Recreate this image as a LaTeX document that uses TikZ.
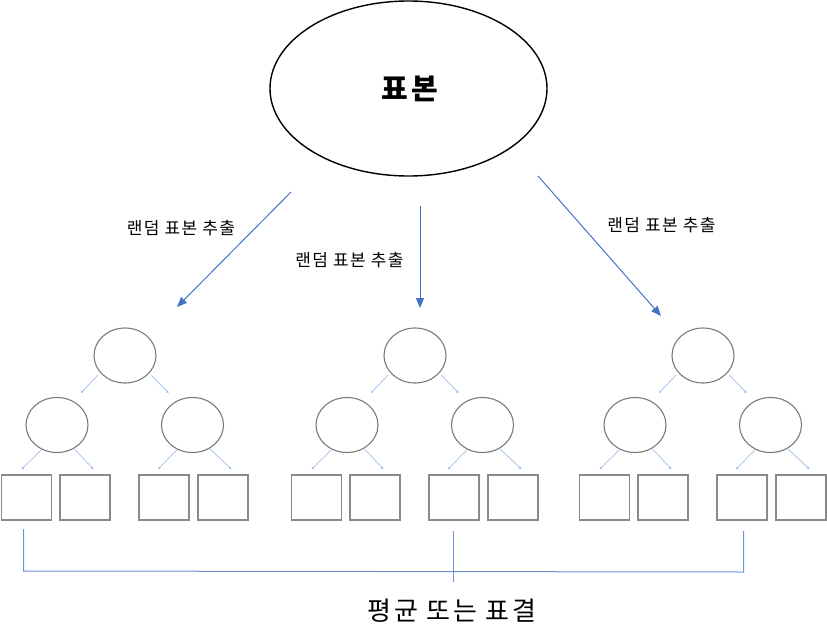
\documentclass[tikz,border=0pt]{standalone}
\usepackage{fontspec}
\newfontfamily\kr{Noto Sans CJK KR}
\usetikzlibrary{shapes.geometric,arrows.meta,calc}
\definecolor{arrblue}{HTML}{4472C4}
\definecolor{lightblue}{HTML}{9DBDEA}
\definecolor{brblue}{HTML}{6A92D8}
\definecolor{grayline}{HTML}{7A7A7A}
\definecolor{boxline}{HTML}{8A8A8A}
\tikzset{
  bigell/.style={ellipse, draw=black, line width=1.4pt, minimum width=277pt, minimum height=175pt, inner sep=0pt},
  treeell/.style={ellipse, draw=grayline, line width=1.1pt, minimum width=62pt, minimum height=55pt, inner sep=0pt},
  leafbox/.style={rectangle, draw=boxline, line width=1.4pt, minimum width=50pt, minimum height=45pt, inner sep=0pt},
  bigarrow/.style={draw=arrblue, line width=1pt, -{Triangle[length=10pt,width=8pt]}},
  tarrow/.style={draw=lightblue, line width=0.7pt, -{Triangle[length=2.5pt,width=2.5pt]}},
  lbl/.style={font=\kr\addfontfeature{LetterSpace=8}\fontsize{17}{20}\selectfont, inner sep=0pt},
  bracket/.style={draw=brblue, line width=1pt}
}
\begin{document}
\begin{tikzpicture}[x=1pt,y=-1pt]
\useasboundingbox (0,0) rectangle (827,624);
\node[bigell] (big) at (408.5,88.5) {};
\node[font=\kr\bfseries\addfontfeature{LetterSpace=10}\fontsize{29}{34}\selectfont, inner sep=0pt] (bigtxt) at (410,89) {표본};

\foreach \t/\cx in {L/125, M/415, R/703}{
  \node[treeell] (\t top) at (\cx,355.5) {};
  \node[treeell] (\t lc) at (\cx-68,425) {};
  \node[treeell] (\t rc) at (\cx+67.5,425) {};
  \node[leafbox] (\t b1) at (\cx-98.5,497.5) {};
  \node[leafbox] (\t b2) at (\cx-40,497.5) {};
  \node[leafbox] (\t b3) at (\cx+39,497.5) {};
  \node[leafbox] (\t b4) at (\cx+98,497.5) {};
  \draw[tarrow, shorten <=3pt, shorten >=11pt] (\t top.215) -- (\t lc.56);
  \draw[tarrow, shorten <=3pt, shorten >=11pt] (\t top.324) -- (\t rc.124);
  \draw[tarrow] (\t lc.238) -- ([shift={(-5pt,5pt)}]\t b1.north);
  \draw[tarrow] (\t lc.306) -- ([shift={(8.5pt,5pt)}]\t b2.north);
  \draw[tarrow] (\t rc.238) -- ([shift={(-6pt,5pt)}]\t b3.north);
  \draw[tarrow] (\t rc.306) -- ([shift={(8.5pt,5pt)}]\t b4.north);
}

% big arrows
\coordinate (aLs) at (291,192);
\coordinate (aLe) at (177,307);
\coordinate (aMs) at (420,206);
\coordinate (aMe) at (420,308);
\coordinate (aRs) at (538,176);
\coordinate (aRe) at (661,316);
\draw[bigarrow] (aLs) -- (aLe);
\draw[bigarrow] (aMs) -- (aMe);
\draw[bigarrow] (aRs) -- (aRe);

\node[lbl] (l1) at (181,228.5) {랜덤 표본 추출};
\node[lbl] (l2) at (349.5,260) {랜덤 표본 추출};
\node[lbl] (l3) at (661.5,225) {랜덤 표본 추출};

% bracket
\coordinate (brL) at (23.7,529);
\coordinate (brLc) at (23.7,571);
\coordinate (brM) at (453.7,531);
\coordinate (brMb) at (453.7,582);
\coordinate (brR) at (743.7,531);
\coordinate (brRc) at (743.7,572);
\draw[bracket] (brL) -- (brLc) -- (brRc) -- (brR);
\draw[bracket] (brM) -- (brMb);

\node[font=\kr\addfontfeature{LetterSpace=10}\fontsize{26}{30}\selectfont, inner sep=0pt] (res) at (452,610.5) {평균 또는 표결};
\end{tikzpicture}
\end{document}
